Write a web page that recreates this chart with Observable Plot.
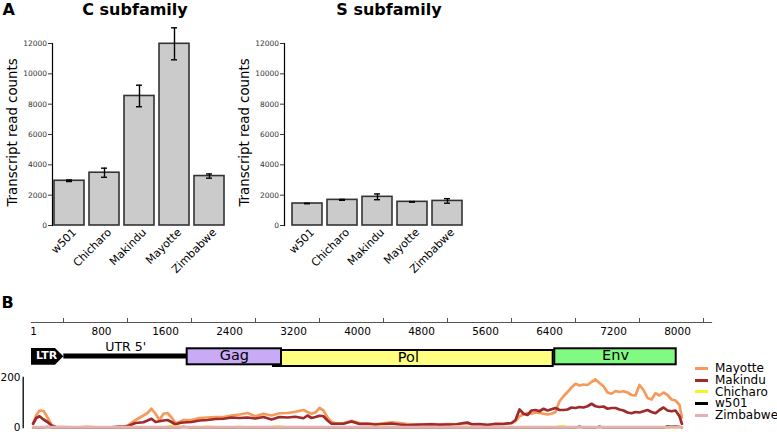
<!DOCTYPE html>
<html><head><meta charset="utf-8">
<script src="https://cdn.jsdelivr.net/npm/d3@7"></script>
<script src="https://cdn.jsdelivr.net/npm/@observablehq/plot@0.6"></script>
<style>
body{margin:0;background:#fff;font-family:"DejaVu Sans",sans-serif;}
#wrap{position:relative;width:777px;height:432px;overflow:hidden;background:#fff;}
#wrap svg{position:absolute;overflow:visible;background:transparent;}
.ttl{position:absolute;font-weight:bold;font-size:16px;line-height:16px;white-space:nowrap;color:#000;}
.leg{position:absolute;font-size:12px;line-height:11.5px;height:11.5px;white-space:nowrap;color:#000;}
.sw{position:absolute;width:13px;height:3px;}
</style></head><body><div id="wrap"></div>
<script>
// ---------- Panel A data ----------
const strains = ["w501", "Chicharo", "Makindu", "Mayotte", "Zimbabwe"];
const cMean = [2950, 3480, 8540, 11980, 3260];
const cErr  = [50, 300, 710, 1055, 140];
const sMean = [1450, 1690, 1890, 1560, 1620];
const sErr  = [15, 30, 190, 20, 150];
const countTicks = [0, 2000, 4000, 6000, 8000, 10000, 12000];

// ---------- Panel B data ----------
const genomeLabels = [1, 800, 1600, 2400, 3200, 4000, 4800, 5600, 6400, 7200, 8000];
const genomeMinor = [400, 1200, 2000, 2800, 3600, 4400, 5200, 6000, 6800, 7600, 8400];
const featureNames = ["LTR", "UTR 5'", "Gag", "Pol", "Env"];
const featureStart = [0, 404, 1946, 3025, 6541];
const featureEnd   = [404, 1950, 3125, 6521, 8059];
const ltrShoulder = 300;

const covPos = [
 20,60,100,150,200,250,300,400,500,600,
 700,800,900,1000,1100,1150,1200,1300,1400,1450,
 1500,1550,1600,1650,1700,1750,1800,1850,1900,2000,
 2100,2200,2300,2400,2500,2600,2700,2800,2900,3000,
 3100,3200,3300,3400,3450,3500,3550,3600,3650,3700,
 3750,3800,3900,4000,4100,4200,4300,4400,4500,4600,
 4700,4800,4900,5000,5100,5200,5300,5400,5450,5500,
 5600,5700,5800,5900,6000,6050,6100,6150,6200,6250,
 6300,6350,6400,6450,6500,6550,6600,6650,6700,6750,
 6800,6850,6900,6950,7000,7050,7100,7150,7200,7250,
 7300,7350,7400,7450,7500,7550,7600,7650,7700,7750,
 7800,7850,7900,7950,8000,8050,8100,8130];
const covMayotte = [
 15,50,68,66,40,10,2,2,1,1,
 3,1,1,1,2,3,8,30,48,58,
 75,55,30,55,58,40,18,22,30,30,
 38,40,42,42,48,52,58,45,55,48,
 57,58,63,70,62,55,60,78,68,40,
 22,18,17,27,18,16,14,17,21,18,
 14,12,13,14,13,14,13,15,16,14,
 13,12,13,15,17,25,45,52,58,55,
 60,58,55,52,55,62,105,125,142,160,
 175,168,172,170,182,192,178,165,140,135,
 146,142,145,140,130,128,170,150,118,112,
 137,128,140,130,112,108,90,40];
const covMakindu = [
 15,38,45,32,22,8,2,1,1,1,
 1,1,1,1,4,3,5,18,21,28,
 35,22,25,28,30,22,12,18,20,22,
 28,30,34,35,40,38,40,36,42,32,
 42,40,43,37,48,38,42,47,45,28,
 15,15,15,24,14,15,12,14,16,12,
 9,11,12,13,11,12,12,18,20,13,
 14,10,15,14,18,30,72,55,50,68,
 70,65,75,68,73,78,70,70,72,80,
 78,82,80,85,95,85,82,84,75,78,
 78,72,68,60,57,62,60,65,70,62,
 57,70,80,68,65,68,45,15];
const covChicharo = [
 0,0,0,0,0,0,0,0,0,0,
 0,0,0,0,0,0,0,0,0,0,
 0,0,0,0,4,6,3,5,2,0,
 0,4,0,0,0,3,0,0,0,2,
 5,0,0,0,0,0,0,0,0,0,
 0,0,0,0,0,0,0,5,0,0,
 0,0,0,0,0,0,4,0,0,0,
 0,0,0,0,0,0,0,0,0,0,
 0,0,0,0,0,0,5,6,0,0,
 0,0,0,0,0,0,0,0,0,0,
 0,0,0,0,0,0,0,0,0,0,
 0,0,0,0,0,0,0,0];
const covW501 = [
 0,0,0,0,3,0,0,0,0,0,
 0,0,0,0,0,0,0,0,0,0,
 0,0,0,0,0,0,0,0,3,0,
 0,0,0,0,0,0,0,0,0,0,
 0,0,0,0,0,0,0,0,0,0,
 0,0,0,0,0,0,0,0,0,0,
 0,0,0,0,0,0,0,0,0,0,
 0,0,0,0,0,0,0,0,0,0,
 0,0,0,0,0,0,0,0,0,0,
 0,4,0,0,0,0,4,0,0,0,
 0,0,0,0,0,0,0,0,0,0,
 0,0,0,5,4,5,3,0];
const covZimbabwe = [
 1,1,1,1,1,1,1,1,1,1,
 1,1,1,1,1,1,1,1,1,1,
 1,1,1,1,1,1,1,1,1,1,
 1,1,1,1,1,1,1,1,1,1,
 1,1,1,1,1,1,1,1,1,1,
 1,1,1,1,1,1,1,1,1,1,
 1,1,1,1,1,1,1,1,1,1,
 1,1,1,1,1,1,1,1,1,1,
 1,1,1,1,1,1,1,1,1,1,
 1,1,1,1,1,1,1,1,1,1,
 1,1,1,1,1,1,1,1,1,1,
 1,1,1,1,2,2,2,1];
const seriesNames = ["Mayotte", "Makindu", "Chicharo", "w501", "Zimbabwe"];

// ---------- styles ----------
const FONT = "DejaVu Sans";
const seriesColor = {Mayotte: "#f59a5a", Makindu: "#9e2a2b", Chicharo: "#f4f424", w501: "#000000", Zimbabwe: "#e6afb1"};
const featureFill = {Gag: "#c8aaf6", Pol: "#ffff80", Env: "#80fa80"};

const wrap = document.getElementById("wrap");
function place(el, left, top) { el.style.left = left + "px"; el.style.top = top + "px"; wrap.appendChild(el); }

// ---------- bar charts ----------
function barChart(mean, err, xRange, padOuter) {
  const data = strains.map((s, i) => ({s, v: mean[i], lo: mean[i] - err[i], hi: mean[i] + err[i]}));
  return Plot.plot({
    width: 250, height: 280,
    marginLeft: 52, marginTop: 43, marginBottom: 55, marginRight: 10,
    style: {fontFamily: FONT, background: "transparent", overflow: "visible"},
    x: {domain: strains, range: xRange, paddingInner: 0.15, paddingOuter: padOuter, axis: null},
    y: {domain: [0, 12000], axis: null},
    marks: [
      Plot.barY(data, {x: "s", y: "v", fill: "#cbcbcb", stroke: "#333", strokeWidth: 1.6}),
      Plot.ruleX(data, {x: "s", y1: "lo", y2: "hi", stroke: "#000", strokeWidth: 1.4}),
      Plot.tickY(data, {x: "s", y: "lo", insetLeft: 12, insetRight: 12, stroke: "#000", strokeWidth: 1.4}),
      Plot.tickY(data, {x: "s", y: "hi", insetLeft: 12, insetRight: 12, stroke: "#000", strokeWidth: 1.4}),
      Plot.frame({anchor: "left", stroke: "#000", strokeWidth: 1.2}),
      Plot.axisY({ticks: countTicks, tickFormat: "d", tickSize: 4, tickPadding: 1.5, fontSize: 7.5, color: "#333"}),
      Plot.text(strains, {x: d => d, frameAnchor: "bottom", rotate: -45, textAnchor: "end", lineAnchor: "middle", dx: 5, dy: 5, fontSize: 11, fill: "#000"}),
      Plot.text(["Transcript read counts"], {frameAnchor: "left", rotate: -90, textAnchor: "middle", lineAnchor: "middle", dx: -40, dy: -2, fontSize: 13.3, fill: "#000"})
    ]
  });
}
place(barChart(cMean, cErr, [52, 226], 0.03), 0, 0);
place(barChart(sMean, sErr, [52, 238.3], 0.2), 232, 0);

function title(txt, left, top, center) {
  const d = document.createElement("div");
  d.className = "ttl"; d.textContent = txt;
  if (center) d.style.transform = "translateX(-50%)";
  place(d, left, top);
}
title("A", 2.5, 1.5, false);
title("C subfamily", 135, 1.5, true);
title("S subfamily", 389, 1.5, true);
title("B", 1.5, 294.8, false);

// ---------- genome map ----------
const feats = featureNames.map((n, i) => ({name: n, start: featureStart[i], end: featureEnd[i], mid: (featureStart[i] + featureEnd[i]) / 2}));
const fByName = Object.fromEntries(feats.map(f => [f.name, f]));
const ltr = fByName["LTR"], utr = fByName["UTR 5'"];
const ltrShape = [
  {x: ltr.start, y1: -1.05, y2: 1.05},
  {x: ltrShoulder, y1: -1.05, y2: 1.05},
  {x: ltr.end, y1: 0, y2: 0}
];
const xGenome = {domain: [0, 8500], axis: null};
const genome = Plot.plot({
  width: 777, height: 56, marginLeft: 31, marginRight: 66, marginTop: 8, marginBottom: 0,
  style: {fontFamily: FONT, background: "transparent", overflow: "visible"},
  x: xGenome,
  y: {domain: [-1, 1], range: [50.3, 34.3], axis: null},
  marks: [
    Plot.frame({anchor: "top", stroke: "#555", strokeWidth: 1.2}),
    Plot.tickX(genomeMinor, {x: d => d, insetTop: -4, insetBottom: 48, stroke: "#555", strokeWidth: 1}),
    Plot.text(genomeLabels.slice(0, 1), {x: d => d, text: d => String(d), frameAnchor: "top", lineAnchor: "middle", dy: 9, dx: 2, fontSize: 10.5, fill: "#000"}),
    Plot.text(genomeLabels.slice(1), {x: d => d, text: d => String(d), frameAnchor: "top", lineAnchor: "middle", dy: 9, dx: 6, fontSize: 10.5, fill: "#000"}),
    Plot.areaY(ltrShape, {x: "x", y1: "y1", y2: "y2", fill: "#000", curve: "linear"}),
    Plot.ruleY([0], {x1: utr.start, x2: utr.end, stroke: "#000", strokeWidth: 5, dy: -0.8}),
    Plot.rect([fByName["Pol"]], {x1: "start", x2: "end", y1: -1, y2: 1, dy: 1.7, fill: featureFill.Pol, stroke: "#000", strokeWidth: 2}),
    Plot.rect([fByName["Gag"], fByName["Env"]], {x1: "start", x2: "end", y1: -1, y2: 1, fill: d => featureFill[d.name], stroke: "#000", strokeWidth: 2}),
    Plot.text([ltr], {x: "mid", y: 0, text: "name", fontWeight: "bold", fontSize: 11, fill: "#fff", dx: -1, dy: -1}),
    Plot.text([utr], {x: "mid", y: 0, text: "name", fontSize: 12.5, fill: "#000", dy: -10}),
    Plot.text([fByName["Gag"], fByName["Env"]], {x: "mid", y: 0, text: "name", fontSize: 14.5, fill: "#000", dy: -1.5}),
    Plot.text([fByName["Pol"]], {x: "mid", y: 0, text: "name", fontSize: 14.5, fill: "#000", dx: -5, dy: 0.5})
  ]
});
place(genome, 0, 314);

// ---------- coverage ----------
const covSeries = {Mayotte: covMayotte, Makindu: covMakindu, Chicharo: covChicharo, w501: covW501, Zimbabwe: covZimbabwe};
const covWidth = {Mayotte: 2.7, Makindu: 2.7, Chicharo: 2.4, w501: 2.2, Zimbabwe: 3};
const coverage = Plot.plot({
  width: 777, height: 62, marginLeft: 31, marginRight: 66, marginTop: 7, marginBottom: 5,
  style: {fontFamily: FONT, background: "transparent", overflow: "visible"},
  x: xGenome,
  y: {domain: [0, 200], axis: null},
  marks: [
    ...seriesNames.map(n => Plot.line(covPos, {x: covPos, y: covSeries[n], stroke: seriesColor[n], strokeWidth: covWidth[n], strokeLinejoin: "round"})),
    Plot.frame({anchor: "left", stroke: "#000", strokeWidth: 1.3, dx: -8.3}),
    Plot.axisY({ticks: [0, 200], tickSize: 0, tickPadding: 11, fontSize: 10.5, color: "#000"})
  ]
});
place(coverage, 0, 370);

// ---------- legend ----------
const legendCenters = [368.3, 380, 391.7, 403.3, 415];
seriesNames.forEach((n, i) => {
  const sw = document.createElement("div");
  sw.className = "sw"; sw.style.background = seriesColor[n];
  place(sw, 695, legendCenters[i] - 1.5);
  const t = document.createElement("div");
  t.className = "leg"; t.textContent = n;
  place(t, 715, legendCenters[i] - 5.2);
});
</script></body></html>
